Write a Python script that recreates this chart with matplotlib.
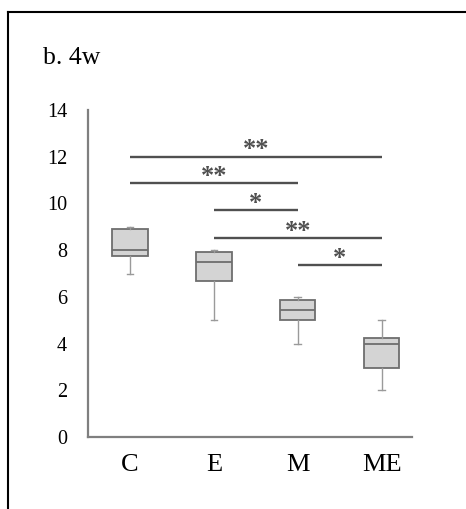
import matplotlib.pyplot as plt
from matplotlib.lines import Line2D

# --- dados ---
grupos = ['C', 'E', 'M', 'ME']
whislo = [7.0, 5.0, 4.0, 2.0]
q1 = [7.75, 6.7, 5.0, 2.95]
mediana = [8.0, 7.5, 5.45, 4.0]
q3 = [8.9, 7.9, 5.85, 4.25]
whishi = [9.0, 8.0, 6.0, 5.0]

# comparações (grupo i, grupo j), altura da barra e rótulo
pares = [(1, 4), (1, 3), (2, 3), (2, 4), (3, 4)]
alturas = [12.0, 10.86, 9.72, 8.52, 7.36]
rotulos = ['**', '**', '*', '**', '*']

plt.rcParams['font.family'] = ['Liberation Serif', 'DejaVu Serif']

fig = plt.figure(figsize=(4.66, 5.09), dpi=100)
ax = fig.add_axes([88 / 466, 1 - 437 / 509, (412 - 88) / 466, (437 - 110) / 509])

stats = []
for g, lo, a, m, b, hi in zip(grupos, whislo, q1, mediana, q3, whishi):
    stats.append(dict(label=g, whislo=lo, q1=a, med=m, q3=b, whishi=hi, fliers=[]))

ax.bxp(stats, positions=range(1, len(grupos) + 1), widths=0.42, patch_artist=True,
       capwidths=0.08,
       boxprops=dict(facecolor='#d4d4d4', edgecolor='#6e6e6e', linewidth=1.3),
       medianprops=dict(color='#6e6e6e', linewidth=1.3),
       whiskerprops=dict(color='#9a9a9a', linewidth=1.0),
       capprops=dict(color='#9a9a9a', linewidth=1.0))

# barras de significância
for (i, j), h, r in zip(pares, alturas, rotulos):
    ax.plot([i, j], [h, h], color='#505050', linewidth=1.7, solid_capstyle='butt')
    ax.text((i + j) / 2, h + 0.02, r, ha='center', va='baseline', fontsize=19,
            fontweight='bold', color='#505050')

ax.set_xlim(0.5, 4.36)
ax.set_ylim(0, 14)
ax.set_yticks(range(0, 15, 2))
ax.tick_params(axis='both', length=0)
ax.tick_params(axis='y', pad=15, labelsize=14.5)
ax.tick_params(axis='x', pad=12, labelsize=19)
for s in ['top', 'right']:
    ax.spines[s].set_visible(False)
for s in ['left', 'bottom']:
    ax.spines[s].set_color('#7f7f7f')
    ax.spines[s].set_linewidth(1.6)

fig.text(43 / 466, 1 - 58 / 509, 'b. 4w', fontsize=18.5, va='center', ha='left')

# moldura
fig.add_artist(Line2D([8 / 466, 8 / 466], [0, 1 - 12 / 509], color='black', linewidth=1.5,
                      transform=fig.transFigure))
fig.add_artist(Line2D([8 / 466, 1], [1 - 12 / 509, 1 - 12 / 509], color='black', linewidth=1.5,
                      transform=fig.transFigure))

plt.savefig('out.png', dpi=100)
